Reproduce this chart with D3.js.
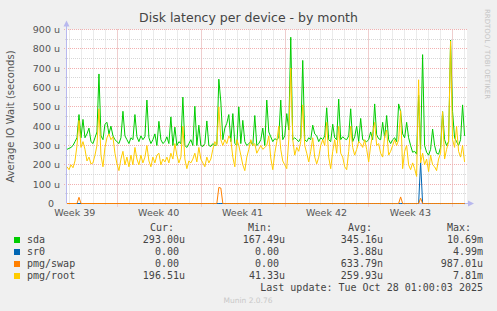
<!DOCTYPE html>
<html>
<head>
<meta charset="utf-8">
<script src="https://cdn.jsdelivr.net/npm/d3@7"></script>
<style>
body { margin: 0; background: #f0f0f0; }
svg { display: block; }
</style>
</head>
<body>
<div class="chart"></div>
<script>
// average IO wait in microseconds, one point every 4 hours
var sda = [
  280, 285, 290, 300, 320, 340, 460, 340, 435, 340,
  360, 390, 320, 310, 340, 370, 670, 350, 330, 410,
  420, 360, 400, 350, 330, 320, 310, 340, 477, 350,
  330, 310, 340, 330, 460, 345, 320, 350, 330, 345,
  535, 340, 310, 330, 360, 300, 425, 330, 310, 320,
  345, 310, 448, 300, 395, 300, 320, 310, 550, 300,
  290, 310, 330, 300, 503, 300, 405, 300, 295, 310,
  427, 300, 295, 310, 300, 305, 643, 525, 330, 390,
  415, 460, 320, 465, 310, 300, 500, 310, 430, 320,
  300, 310, 320, 300, 455, 300, 310, 330, 390, 300,
  535, 370, 345, 320, 335, 330, 340, 535, 330, 350,
  465, 380, 860, 330, 340, 330, 320, 340, 740, 330,
  320, 340, 330, 405, 360, 350, 320, 340, 330, 350,
  495, 330, 320, 410, 340, 330, 540, 330, 345, 335,
  330, 350, 490, 320, 345, 400, 320, 440, 330, 325,
  320, 330, 370, 330, 515, 355, 335, 330, 420, 340,
  455, 330, 310, 330, 340, 320, 515, 475, 360, 340,
  420, 340, 300, 265, 270, 255, 560, 280, 770, 300,
  265, 250, 280, 385, 300, 260, 255, 290, 475, 330,
  300, 320, 845, 475, 340, 320, 300, 330, 510, 350
];
var sr0 = [
  0, 0, 0, 0, 0, 0, 0, 0, 0, 0,
  0, 0, 0, 0, 0, 0, 0, 0, 0, 0,
  0, 0, 0, 0, 0, 0, 0, 0, 0, 0,
  0, 0, 0, 0, 0, 0, 0, 0, 0, 0,
  0, 0, 0, 0, 0, 0, 0, 0, 0, 0,
  0, 0, 0, 0, 0, 0, 0, 0, 0, 0,
  0, 0, 0, 0, 0, 0, 0, 0, 0, 0,
  0, 0, 0, 0, 0, 0, 0, 0, 0, 0,
  0, 0, 0, 0, 0, 0, 0, 0, 0, 0,
  0, 0, 0, 0, 0, 0, 0, 0, 0, 0,
  0, 0, 0, 0, 0, 0, 0, 0, 0, 0,
  0, 0, 0, 0, 0, 0, 0, 0, 0, 0,
  0, 0, 0, 0, 0, 0, 0, 0, 0, 0,
  0, 0, 0, 0, 0, 0, 0, 0, 0, 0,
  0, 0, 0, 0, 0, 0, 0, 0, 0, 0,
  0, 0, 0, 0, 0, 0, 0, 0, 0, 0,
  0, 0, 0, 0, 0, 0, 0, 0, 0, 0,
  0, 0, 0, 0, 0, 0, 0, 215, 0, 0,
  0, 0, 0, 0, 0, 0, 0, 0, 0, 0,
  0, 0, 0, 0, 0, 0, 0, 0, 0, 0
];
var pmgSwap = [
  0, 0, 0, 0, 0, 0, 32, 0, 0, 0,
  0, 0, 0, 0, 0, 0, 0, 0, 0, 0,
  0, 0, 0, 0, 0, 0, 0, 0, 0, 0,
  0, 0, 0, 0, 0, 0, 0, 0, 0, 0,
  0, 0, 0, 0, 0, 0, 0, 0, 0, 0,
  0, 0, 0, 0, 0, 0, 0, 0, 0, 0,
  0, 0, 0, 0, 0, 0, 0, 0, 0, 0,
  0, 0, 0, 0, 0, 0, 83, 80, 0, 0,
  0, 0, 0, 0, 0, 0, 0, 0, 0, 0,
  0, 0, 0, 0, 0, 0, 0, 0, 0, 0,
  0, 0, 0, 0, 0, 0, 0, 0, 0, 0,
  0, 0, 0, 0, 0, 0, 0, 0, 0, 0,
  0, 0, 0, 0, 0, 0, 0, 0, 0, 0,
  0, 0, 0, 0, 0, 0, 0, 0, 0, 0,
  0, 0, 0, 0, 0, 0, 0, 0, 0, 0,
  0, 0, 0, 0, 0, 0, 0, 0, 0, 0,
  0, 0, 0, 0, 0, 0, 0, 34, 0, 0,
  0, 0, 0, 0, 0, 0, 0, 27, 0, 0,
  0, 0, 0, 0, 0, 0, 0, 0, 0, 0,
  0, 0, 0, 0, 0, 0, 0, 0, 0, 0
];
var pmgRoot = [
  190, 175, 200, 185, 220, 300, 430, 290, 320, 280,
  220, 240, 205, 210, 250, 300, 490, 250, 190, 290,
  340, 360, 330, 345, 260, 205, 170, 230, 270, 200,
  240, 190, 250, 200, 290, 230, 200, 250, 210, 240,
  300, 220, 190, 240, 210, 250, 260, 200, 230, 215,
  240, 210, 260, 230, 310, 250, 210, 240, 400, 230,
  180, 220, 210, 230, 260, 215, 290, 230, 210, 190,
  240, 210, 230, 280, 320, 300, 500, 330, 300, 330,
  310, 350, 330, 240, 190, 330, 300, 250, 200, 170,
  240, 280, 330, 300, 310, 260, 280, 300, 280, 290,
  300, 350, 235, 175, 260, 320, 400, 280, 220, 200,
  180, 330, 700, 330, 250, 290, 270, 320, 510, 300,
  260, 215, 270, 340, 240, 205, 240, 300, 330, 300,
  420, 240, 180, 270, 330, 260, 400, 260, 240, 190,
  175, 270, 400, 290, 250, 280, 320, 310, 290, 330,
  280, 215, 300, 360, 420, 300, 310, 260, 240, 350,
  380, 250, 270, 300, 330, 300, 330, 480, 180, 270,
  300, 200, 175, 210, 180, 140, 640, 210, 260, 200,
  230, 165, 250, 200, 190, 170, 230, 260, 475, 230,
  280, 320, 840, 330, 290, 400, 270, 240, 300, 215
];

var seriesNames = ["sda", "sr0", "pmg/swap", "pmg/root"];
var seriesColors = ["#00cc00", "#0066b3", "#ff8000", "#ffcc00"];
var legendCur = ["293.00u", "0.00", "0.00", "196.51u"];
var legendMin = ["167.49u", "0.00", "0.00", "41.33u"];
var legendAvg = ["345.16u", "3.88u", "633.79n", "259.93u"];
var legendMax = ["10.69m", "4.99m", "987.01u", "7.81m"];
var yTicks = [0, 100, 200, 300, 400, 500, 600, 700, 800, 900];
var yMinor = [50, 150, 250, 350, 450, 550, 650, 750, 850];

var width = 497,
height = 311,
plot = {left: 67, right: 467, top: 29.5, bottom: 203.5},
startTime = Date.UTC(2025, 8, 24, 20, 28),
stepMs = 4 * 3600 * 1000,
endTime = startTime + 33.37 * 24 * 3600 * 1000;

var svg = d3.select(".chart").append("svg")
  .attr("width", width)
  .attr("height", height)
  .style("font-family", "DejaVu Sans")

var x = d3.scaleUtc()
  .domain([new Date(startTime), new Date(endTime)])
  .range([plot.left, plot.right]);

var y = d3.scaleLinear()
  .domain([0, 900])
  .range([plot.bottom, plot.top]);

svg.append("rect")
  .attr("x", plot.left)
  .attr("y", plot.top)
  .attr("width", plot.right - plot.left)
  .attr("height", plot.bottom - plot.top)
  .attr("fill", "#ffffff")

var days = d3.utcDay.range(new Date(startTime), new Date(endTime));
var weeks = d3.utcMonday.range(new Date(startTime), new Date(endTime));
var weekLabels = d3.utcMonday.range(d3.utcMonday.floor(new Date(startTime)), new Date(endTime))
  .filter(function(d) { return x(d3.utcHour.offset(d, 84)) < plot.right; });

var grid = svg.append("g").attr("class", "grid")
var minorColor = "#d6d6d6",
majorColor = "#f2b0b0";

// minor grid
grid.selectAll(".vminor")
  .data(days)
  .enter()
  .append("line")
  .attr("x1", function(d) { return Math.round(x(d)) + 0.5; })
  .attr("x2", function(d) { return Math.round(x(d)) + 0.5; })
  .attr("y1", plot.top)
  .attr("y2", plot.bottom + 2)
  .attr("stroke", minorColor)
  .attr("stroke-dasharray", "1,1")

grid.selectAll(".hminor")
  .data(yMinor)
  .enter()
  .append("line")
  .attr("x1", plot.left - 2)
  .attr("x2", plot.right)
  .attr("y1", function(d) { return Math.round(y(d) - 0.5) + 0.5; })
  .attr("y2", function(d) { return Math.round(y(d) - 0.5) + 0.5; })
  .attr("stroke", minorColor)
  .attr("stroke-dasharray", "1,1")

// major grid
grid.selectAll(".vmajor")
  .data(weeks)
  .enter()
  .append("line")
  .attr("x1", function(d) { return Math.round(x(d)) + 0.5; })
  .attr("x2", function(d) { return Math.round(x(d)) + 0.5; })
  .attr("y1", plot.top)
  .attr("y2", plot.bottom + 3)
  .attr("stroke", majorColor)
  .attr("stroke-dasharray", "1,1")

grid.selectAll(".hmajor")
  .data(yTicks.slice(1))
  .enter()
  .append("line")
  .attr("x1", plot.left - 3)
  .attr("x2", plot.right)
  .attr("y1", function(d) { return Math.round(y(d) - 0.5) + 0.5; })
  .attr("y2", function(d) { return Math.round(y(d) - 0.5) + 0.5; })
  .attr("stroke", majorColor)
  .attr("stroke-dasharray", "1,1")

// axes
var axisColor = "#b8b8ee";
svg.append("line")
  .attr("x1", plot.left - 0.5).attr("x2", plot.left - 0.5)
  .attr("y1", plot.bottom).attr("y2", plot.top - 4)
  .attr("stroke", axisColor)
svg.append("line")
  .attr("x1", plot.left).attr("x2", plot.right + 3)
  .attr("y1", plot.bottom).attr("y2", plot.bottom)
  .attr("stroke", axisColor)
svg.append("path")
  .attr("d", d3.line()([[plot.left - 3.5, plot.top - 3], [plot.left - 0.5, plot.top - 9], [plot.left + 2.5, plot.top - 3]]) + "Z")
  .attr("fill", axisColor)
svg.append("path")
  .attr("d", d3.line()([[plot.right + 1, plot.bottom - 3], [plot.right + 7, plot.bottom], [plot.right + 1, plot.bottom + 3]]) + "Z")
  .attr("fill", axisColor)

// tick labels
svg.append("g").selectAll("text")
  .data(yTicks)
  .enter()
  .append("text")
  .text(function(d) { return d === 0 ? "0" : d + " u"; })
  .attr("x", function(d) { return d === 0 ? 54 : 60; })
  .attr("y", function(d) { return y(d); })
  .attr("dy", "0.36em")
  .attr("text-anchor", "end")
  .attr("font-size", "9.5px")
  .attr("fill", "#555")

svg.append("g").selectAll("text")
  .data(weekLabels)
  .enter()
  .append("text")
  .text(function(d) { return "Week " + d3.utcFormat("%V")(d); })
  .attr("x", function(d) { return x(d3.utcHour.offset(d, 84)); })
  .attr("y", 216)
  .attr("text-anchor", "middle")
  .attr("font-size", "9.5px")
  .attr("fill", "#555")

// data lines
var allSeries = [sda, sr0, pmgSwap, pmgRoot];
var line = d3.line()
  .x(function(d, i) { return x(new Date(startTime + i * stepMs)); })
  .y(function(d) { return y(d); });

svg.append("g").attr("class", "lines")
  .selectAll("path")
  .data(allSeries)
  .enter()
  .append("path")
  .attr("d", line)
  .attr("fill", "none")
  .attr("stroke", function(d, i) { return seriesColors[i]; })
  .attr("stroke-width", 1)

// titles
svg.append("text")
  .text("Disk latency per device - by month")
  .attr("x", 248.5)
  .attr("y", 22)
  .attr("text-anchor", "middle")
  .attr("font-size", "12.5px")
  .attr("fill", "#444")

svg.append("text")
  .text("Average IO Wait (seconds)")
  .attr("transform", "translate(14," + ((plot.top + plot.bottom) / 2) + ") rotate(-90)")
  .attr("text-anchor", "middle")
  .attr("font-size", "10px")
  .attr("fill", "#555")

svg.append("text")
  .text("RRDTOOL / TOBI OETIKER")
  .attr("transform", "translate(485,54) rotate(90)")
  .attr("text-anchor", "middle")
  .attr("font-size", "7px")
  .attr("fill", "#c4c4c4")

// legend
var legend = svg.append("g")
  .style("font-family", "DejaVu Sans Mono")
  .attr("font-size", "10px")
  .attr("fill", "#444")

var headers = [["Cur:", 150], ["Min:", 248], ["Avg:", 348], ["Max:", 447]];
legend.selectAll(".head")
  .data(headers)
  .enter()
  .append("text")
  .text(function(d) { return d[0]; })
  .attr("x", function(d) { return d[1]; })
  .attr("y", 231)

var rows = legend.selectAll(".row")
  .data(seriesNames)
  .enter()
  .append("g")
  .attr("transform", function(d, i) { return "translate(0," + (243 + i * 12) + ")"; })

rows.append("rect")
  .attr("x", 14)
  .attr("y", -6)
  .attr("width", 6)
  .attr("height", 6)
  .attr("fill", function(d, i) { return seriesColors[i]; })

rows.append("text")
  .text(function(d) { return d; })
  .attr("x", 27)

function fmt(s) { return /[a-z]$/.test(s) ? s : s + "\u00a0"; }
var cols = [[legendCur, 185], [legendMin, 285], [legendAvg, 383], [legendMax, 483]];
cols.forEach(function(c) {
  rows.append("text")
    .text(function(d, i) { return fmt(c[0][i]); })
    .attr("x", c[1])
    .attr("text-anchor", "end")
});

legend.append("text")
  .text("Last update: Tue Oct 28 01:00:03 2025")
  .attr("x", 483)
  .attr("y", 291)
  .attr("text-anchor", "end")

svg.append("text")
  .text("Munin 2.0.76")
  .attr("x", 248)
  .attr("y", 303)
  .attr("text-anchor", "middle")
  .attr("font-size", "7.5px")
  .attr("fill", "#c8c8c8")
</script>
</body>
</html>
